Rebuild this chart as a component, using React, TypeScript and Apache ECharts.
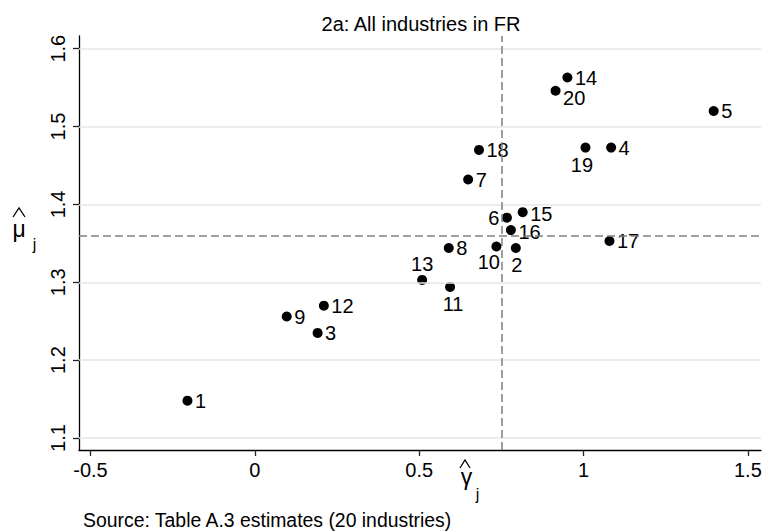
import React, { useEffect, useRef } from "react";
import * as echarts from "echarts";

// ---- data ----
const industries = [1, 2, 3, 4, 5, 6, 7, 8, 9, 10, 11, 12, 13, 14, 15, 16, 17, 18, 19, 20];
const gammaHat = [-0.205, 0.794, 0.191, 1.084, 1.396, 0.767, 0.649, 0.59, 0.097, 0.735, 0.594, 0.21, 0.509, 0.951, 0.815, 0.779, 1.079, 0.682, 1.006, 0.915];
const muHat = [1.148, 1.344, 1.235, 1.473, 1.52, 1.383, 1.432, 1.344, 1.256, 1.346, 1.294, 1.27, 1.303, 1.563, 1.39, 1.367, 1.353, 1.47, 1.473, 1.546];
const xTicks = [-0.5, 0, 0.5, 1, 1.5];
const yTicks = [1.1, 1.2, 1.3, 1.4, 1.5, 1.6];
const refGamma = 0.753;
const refMu = 1.36;
const titleText = "2a: All industries in FR";
const noteText = "Source: Table A.3 estimates (20 industries)";

// ---- label placement (layout) ----
const labelPlacement: Record<number, { position: string; offset?: number[]; distance?: number }> = {
  20: { position: "right", offset: [0, 7] },
  19: { position: "bottom", offset: [-3.5, 0], distance: 2 },
  6: { position: "left" },
  10: { position: "left", offset: [11, 15.5] },
  2: { position: "bottom", offset: [1, 0], distance: 2 },
  13: { position: "top", distance: 0.5 },
  11: { position: "bottom", offset: [3, 0], distance: 2 },
  15: { position: "right", offset: [0, 2] },
  16: { position: "right", offset: [0, 2] },
};

const FONT = "'Liberation Sans', Arial, Helvetica, sans-serif";

export default function App() {
  const ref = useRef<HTMLDivElement>(null);
  useEffect(() => {
    if (!ref.current) return;
    const chart = echarts.init(ref.current, null, { renderer: "svg" });
    const points = industries.map((id, i) => {
      const p = labelPlacement[id] || { position: "right" };
      return {
        value: [gammaHat[i], muHat[i]],
        name: String(id),
        label: {
          show: true,
          position: p.position,
          distance: p.distance ?? 2.5,
          offset: p.offset ?? [0, 0],
        },
      };
    });
    chart.setOption({
      animation: false,
      backgroundColor: "#ffffff",
      textStyle: { fontFamily: FONT },
      title: {
        text: titleText,
        left: 416,
        top: 9,
        textAlign: "center",
        textStyle: { fontFamily: FONT, fontSize: 20, fontWeight: "normal", color: "#000" },
      },
      grid: { left: 79, right: 3, top: 36, bottom: 82, containLabel: false, outerBoundsMode: "none" },
      xAxis: {
        type: "value",
        min: -0.535,
        max: 1.54,
        axisLine: { show: true, onZero: false, lineStyle: { color: "#000", width: 1.3 } },
        axisTick: { show: true, length: 6, customValues: xTicks, lineStyle: { color: "#222", width: 1.3 } },
        axisLabel: {
          customValues: xTicks,
          margin: 10,
          fontSize: 20,
          color: "#000",
          fontFamily: FONT,
          formatter: (v: number) => String(v),
        },
        splitLine: { show: false },
      },
      yAxis: {
        type: "value",
        min: 1.0846,
        max: 1.6163,
        axisLine: { show: true, onZero: false, lineStyle: { color: "#000", width: 1.3 } },
        axisTick: { show: true, length: 6, customValues: yTicks, lineStyle: { color: "#222", width: 1.3 } },
        axisLabel: {
          customValues: yTicks,
          rotate: 90,
          margin: 11,
          fontSize: 20,
          color: "#000",
          fontFamily: FONT,
          formatter: (v: number) => String(v),
        },
        splitLine: { show: false },
      },
      graphic: [
        { type: "polyline", shape: { points: [[13, 217], [19, 208], [25, 217]] }, style: { stroke: "#000", lineWidth: 1.3, fill: "none" } },
        { type: "text", x: 19, y: 229, style: { text: "μ", font: `23px ${FONT}`, fill: "#000", align: "center", verticalAlign: "middle" } },
        { type: "text", x: 34.5, y: 244, style: { text: "j", font: `16px ${FONT}`, fill: "#000", align: "center", verticalAlign: "middle" } },
        { type: "polyline", shape: { points: [[460, 468], [465, 460], [470, 468]] }, style: { stroke: "#000", lineWidth: 1.3, fill: "none" } },
        { type: "text", x: 466.5, y: 477, style: { text: "γ", font: `23px ${FONT}`, fill: "#000", align: "center", verticalAlign: "middle" } },
        { type: "text", x: 477.5, y: 494, style: { text: "j", font: `16px ${FONT}`, fill: "#000", align: "center", verticalAlign: "middle" } },
        { type: "text", x: 83, y: 520, style: { text: noteText, font: `19.4px ${FONT}`, fill: "#000", align: "left", verticalAlign: "middle" } },
      ],
      series: [
        {
          type: "scatter",
          data: [],
          z: 1,
          silent: true,
          markLine: {
            silent: true,
            symbol: "none",
            animation: false,
            label: { show: false },
            lineStyle: { color: "#e6e6e6", width: 1.6, type: "solid" },
            emphasis: { disabled: true },
            data: yTicks.map((v) => ({ yAxis: v })),
          },
        },
        {
          type: "scatter",
          data: [],
          z: 2,
          silent: true,
          markLine: {
            silent: true,
            symbol: "none",
            animation: false,
            label: { show: false },
            lineStyle: { color: "#808080", width: 1.5, type: [8, 4] },
            emphasis: { disabled: true },
            data: [{ xAxis: refGamma }, { yAxis: refMu }],
          },
        },
        {
          type: "scatter",
          z: 3,
          symbol: "circle",
          symbolSize: 10,
          itemStyle: { color: "#000", opacity: 1 },
          label: {
            show: true,
            formatter: (p: any) => p.name,
            fontSize: 20,
            color: "#000",
            fontFamily: FONT,
          },
          emphasis: { disabled: true },
          data: points,
        },
      ],
    });
    return () => chart.dispose();
  }, []);
  return <div ref={ref} style={{ position: "absolute", left: 0, top: 0, width: 764, height: 532 }} />;
}
